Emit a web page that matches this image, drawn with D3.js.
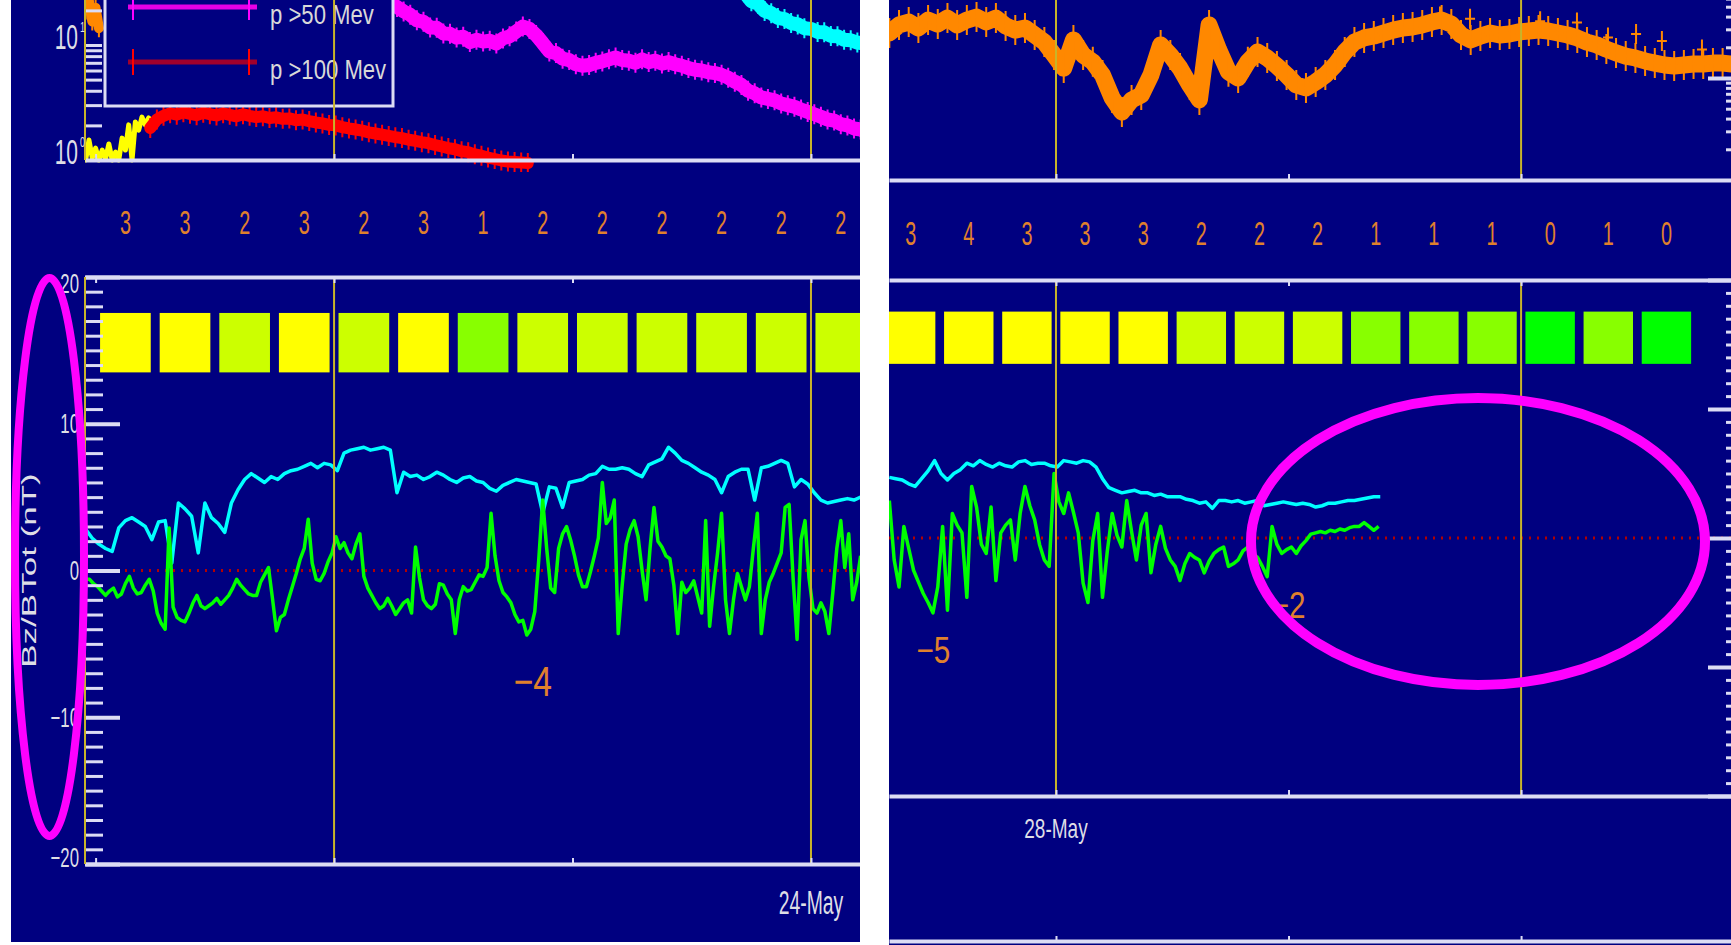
<!DOCTYPE html>
<html>
<head>
<meta charset="utf-8">
<title>Proton flux, Kp and IMF Bz/Btot</title>
<script src="https://cdn.jsdelivr.net/npm/d3@7"></script>
<style>
  html, body { margin: 0; padding: 0; background: #ffffff; }
  svg { display: block; }
  text { font-family: "Liberation Sans", Arial, sans-serif; }
</style>
</head>
<body>
<svg id="chart" width="1731" height="945"></svg>
<script>
// ---------------- data ----------------
// Kp index, one value per 3-hour bin
const kpLeftStart = "2024-05-22T12:00Z";
const kpLeft = [3, 3, 2, 3, 2, 3, 1, 2, 2, 2, 2, 2, 2];
const kpRightStart = "2024-05-27T15:00Z";
const kpRight = [3, 4, 3, 3, 3, 2, 2, 2, 1, 1, 1, 0, 1, 0];

// Dst minima written under the Bz trace
const dstLeftTimes = ["2024-05-23T10:00Z"];
const dstLeftValues = [-4];
const dstRightTimes = ["2024-05-27T17:40Z", "2024-05-28T12:00Z"];
const dstRightValues = [-5, -2];

// date labels on the time axis
const dayLabelsLeft = ["2024-05-24"];
const dayLabelsRight = ["2024-05-28"];

// IMF Bz (nT), 12-minute cadence
const bzLeftStart = "2024-05-22T11:30Z";
const bzLeft = [
  -0.6, -0.6, -0.9, -1.1, -1.4, -1.7, -1.4, -1.2, -1.8, -1.6,
  -0.9, -0.4, -1.2, -1.6, -1.5, -1.0, -0.6, -1.4, -2.9, -3.6,
  -4.0, 2.9, -2.5, -3.2, -3.4, -3.5, -2.9, -2.2, -1.7, -2.4,
  -2.6, -2.4, -2.2, -1.9, -2.3, -2.0, -1.7, -1.2, -0.6, -1.0,
  -1.3, -1.6, -1.7, -1.7, -0.8, -0.3, 0.2, -1.9, -4.1, -3.2,
  -3.0, -2.0, -1.1, -0.2, 0.8, 1.5, 3.5, 0.5, -0.6, -0.7,
  -0.2, 0.6, 1.2, 2.3, 1.5, 1.9, 1.2, 0.8, 1.8, 2.5,
  -0.4, -1.2, -1.7, -2.2, -2.6, -2.4, -1.9, -2.4, -3.0, -2.6,
  -2.2, -2.0, -2.9, 1.6, -0.5, -2.0, -2.4, -2.6, -2.3, -0.9,
  -1.0, -1.6, -2.0, -4.3, -2.0, -1.1, -1.4, -1.3, -0.8, -0.3,
  -0.4, 0.2, 3.9, 1.0, -0.7, -1.5, -1.8, -2.2, -3.0, -3.5,
  -3.4, -4.4, -4.0, -2.8, 0.7, 4.8, 1.5, -1.2, -1.5, 1.5,
  2.5, 3.0, 2.1, 1.0, -0.3, -1.1, -1.1, -0.1, 1.0, 2.2,
  6.0, 3.2, 3.6, 4.8, -4.3, -1.0, 1.8, 2.8, 3.4, 2.3,
  0.0, -2.0, 1.5, 4.3, 2.0, 1.6, 1.0, 0.8, -1.0, -4.3,
  -0.8, -1.5, -1.2, -0.7, -1.8, -2.9, 3.4, -3.8, -1.1, 1.2,
  3.9, -2.0, -4.3, -2.0, -0.2, -1.1, -2.0, -1.1, 1.5, 3.9,
  -4.3, -2.0, -0.8, -0.2, 0.5, 1.2, 4.3, 4.5, -0.5, -4.7,
  2.1, 3.4, -0.5, -2.6, -2.9, -2.2, -2.8, -4.3, -1.5, 1.5,
  3.4, 0.2, 2.5, -2.0, -0.8, 1.0
];
// IMF total field (nT), 20-minute cadence
const btLeftStart = "2024-05-22T11:30Z";
const btLeft = [
  2.8, 2.2, 1.8, 1.5, 1.3, 2.9, 3.4, 3.6, 3.3, 3.0,
  2.1, 3.3, 3.4, 0.5, 4.6, 4.2, 3.7, 1.2, 4.6, 3.6,
  3.2, 2.6, 4.6, 5.5, 6.2, 6.6, 6.3, 6.0, 6.4, 6.2,
  6.6, 6.8, 6.9, 7.1, 7.3, 7.0, 7.3, 7.2, 6.8, 8.0,
  8.2, 8.3, 8.4, 8.2, 8.3, 8.4, 8.2, 5.3, 6.7, 6.4,
  6.5, 6.2, 6.4, 6.7, 6.5, 6.2, 6.0, 6.3, 6.4, 6.1,
  6.0, 5.6, 5.4, 5.8, 6.0, 6.2, 6.1, 6.0, 5.9, 3.9,
  5.7, 5.6, 4.3, 6.0, 6.1, 6.2, 6.5, 6.6, 7.1, 6.9,
  6.9, 7.0, 6.9, 6.6, 6.4, 7.2, 7.4, 7.6, 8.4, 8.0,
  7.5, 7.3, 7.0, 6.7, 6.5, 6.2, 5.3, 6.4, 6.7, 6.9,
  6.9, 4.8, 7.0, 7.1, 7.3, 7.5, 7.3, 5.7, 6.2, 5.9,
  5.3, 4.8, 4.6, 4.7, 4.8, 4.9, 4.8, 5.0
];
// IMF Bz (nT), 15-minute cadence
const bzRightStart = "2024-05-27T15:24Z";
const bzRight = [
  2.9, -1.7, -3.8, 0.9, -0.8, -2.5, -3.4, -4.3, -5.0, -5.8,
  -3.8, 0.9, -5.6, 1.9, 1.0, 0.4, -4.6, 4.0, 2.4, -0.5,
  -1.2, 2.4, -3.3, 0.4, 1.0, 1.4, -1.7, 1.9, 4.0, 2.5,
  1.4, -0.5, -1.7, -2.2, 5.0, 2.8, 1.9, 3.5, 2.0, 0.4,
  -3.5, -5.0, -0.2, 1.9, -4.6, -1.0, 1.9, 0.2, -0.7, 2.9,
  0.5, -1.7, 1.0, 1.9, -2.7, -0.5, 0.9, -0.8, -1.7, -2.2,
  -3.3, -2.0, -1.2, -1.5, -1.7, -2.7, -1.8, -1.2, -0.9, -0.7,
  -2.2, -2.0, -1.7, -1.0, -0.7, -1.2, -1.5, -2.2, -3.0, 0.9,
  -0.5, -1.2, -0.9, -0.7, -1.2, -0.6, -0.2, 0.3, 0.4, 0.5,
  0.4, 0.6, 0.5, 0.7, 0.6, 0.8, 0.9, 0.9, 1.2, 0.9,
  0.6, 0.9
];
// IMF total field (nT), 20-minute cadence
const btRightStart = "2024-05-27T15:24Z";
const btRight = [
  4.7, 4.6, 4.5, 4.2, 4.0, 4.6, 5.2, 6.0, 5.0, 4.5,
  5.0, 5.3, 5.8, 5.6, 6.0, 5.7, 5.5, 5.8, 5.6, 5.5,
  5.9, 6.0, 5.7, 5.8, 5.8, 5.6, 5.5, 6.0, 5.9, 5.8,
  6.0, 5.9, 5.5, 4.6, 3.9, 3.7, 3.5, 3.6, 3.7, 3.5,
  3.5, 3.3, 3.4, 3.2, 3.2, 3.2, 3.0, 2.9, 2.7, 2.8,
  2.3, 2.9, 2.9, 2.8, 2.9, 2.7, 2.8, 2.9, 2.5, 2.6,
  2.7, 2.8, 2.7, 2.6, 2.7, 2.6, 2.4, 2.5, 2.7, 2.7,
  2.8, 2.9, 2.9, 3.0, 3.1, 3.2, 3.2
];

// particle fluxes (pfu)
const fluxP50Start = "2024-05-22T14:50Z";      // 20-minute cadence
const fluxP50 = [
  28, 35, 38, 40, 42, 41, 43, 44, 42, 43, 41, 40, 42, 39, 38, 40, 37, 36, 38, 35,
  34, 36, 33, 32, 34, 31, 30, 29, 31, 28, 27, 28, 26, 25, 24, 25, 23,
  21.4, 19.6, 18.3, 16.4, 15.9, 14.2, 14.1, 12.6, 12.5, 11.6, 11.8, 10.6, 11.1, 10.7,
  10.9, 10.3, 11.4, 11.9, 13.1, 14.5, 13.8, 12.2, 10.4, 8.8, 8.5, 7.6, 7.4, 6.8,
  6.6, 6.7, 7.0, 7.2, 7.5, 7.8, 7.4, 7.3, 7.0, 7.5, 7.1, 7.3, 6.9, 7.1, 6.8,
  6.6, 6.3, 6.1, 6.0, 5.8, 5.7, 5.5, 5.2, 4.8, 4.5, 4.0, 3.8, 3.5, 3.4, 3.3,
  3.1, 3.0, 2.9, 2.75, 2.62, 2.5, 2.38, 2.25, 2.2, 2.05, 2.0, 1.88, 1.84, 1.72
];
const fluxP100Start = "2024-05-22T14:45Z";     // 20-minute cadence
const fluxP100 = [
  1.90, 2.25, 2.42, 2.55, 2.48, 2.60, 2.52, 2.45, 2.58, 2.50,
  2.44, 2.55, 2.47, 2.40, 2.50, 2.42, 2.36, 2.40, 2.32, 2.35,
  2.28, 2.30, 2.22, 2.25, 2.18, 2.12, 2.08, 2.02, 2.00, 1.93,
  1.88, 1.84, 1.80, 1.74, 1.70, 1.66, 1.62, 1.58, 1.55, 1.50,
  1.47, 1.43, 1.40, 1.35, 1.31, 1.27, 1.24, 1.19, 1.17, 1.12,
  1.09, 1.05, 1.02, 0.99, 0.97, 0.96, 0.95, 0.94
];
const fluxP10Start = "2024-05-23T20:00Z";      // 20-minute cadence
const fluxP10 = [
  36.7, 30.5, 28.4, 24.0, 22.8, 19.8, 18.9, 17.2, 16.8, 15.5,
  15.1, 14.0, 13.8, 13.0, 12.9, 12.0, 11.9, 11.1, 11.0, 10.5, 10.3
];
const fluxP1Start = "2024-05-22T11:30Z";       // 10-minute cadence
const fluxP1 = [
  1.0, 1.49, 1.04, 1.27, 1.0, 1.22, 1.02, 1.38, 1.0, 1.17,
  1.0, 1.55, 1.22, 2.02, 1.0, 2.14, 1.82, 2.36, 2.02, 2.32
];
const fluxE2LeftStart = "2024-05-22T11:30Z";   // 10-minute cadence
const fluxE2Left = [20, 24, 16, 21, 14];
const fluxE2RightStart = "2024-05-27T15:24Z";  // 30-minute cadence
const fluxE2Right = [
  27.6, 33.1, 35.4, 30.9, 37.0, 33.8, 38.7, 33.1, 37.0, 39.6,
  35.4, 38.7, 32.4, 29.5, 30.9, 26.4, 22.5, 16.8, 12.5, 23.6,
  16.8, 14.4, 10.7, 6.37, 4.64, 6.09, 6.81, 10.7, 21.1, 16.8,
  12.5, 8.54, 6.09, 33.1, 18.8, 11.5, 10.0, 14.4, 18.0, 15.7,
  13.1, 10.7, 8.54, 7.98, 9.14, 10.7, 13.4, 18.0, 22.5, 24.7,
  25.8, 27.6, 29.5, 30.9, 31.6, 33.1, 35.4, 37.0, 33.8, 26.4,
  23.6, 25.8, 27.6, 26.4, 27.0, 28.3, 28.9, 29.5, 28.9, 27.6,
  26.4, 24.7, 22.5, 21.1, 19.2, 17.6, 16.4, 15.7, 14.7, 14.0,
  13.4, 13.1, 13.4, 13.7, 13.7, 14.0, 14.0, 13.7
];
const fluxE2SpikeTimes = ["2024-05-28T19:49Z", "2024-05-28T21:22Z", "2024-05-29T00:59Z",
  "2024-05-29T02:53Z", "2024-05-29T04:29Z", "2024-05-29T05:56Z", "2024-05-29T07:16Z", "2024-05-29T09:20Z"];
const fluxE2SpikeValues = [40, 38, 36, 35, 25, 27, 23, 19];

const legendLabels = ["p >50 Mev", "p >100 Mev"];

// ---------------- helpers ----------------
const parse = d3.utcParse("%Y-%m-%dT%H:%MZ");
const parseDay = d3.utcParse("%Y-%m-%d");
const fmtDay = d3.utcFormat("%d-%b");
const MIN = 60000;

function series(start, stepMin, values) {
  const t0 = +parse(start);
  return values.map((v, i) => ({ t: new Date(t0 + i * stepMin * MIN), v }));
}
function pairs(times, values) {
  return times.map((s, i) => ({ t: parse(s), v: values[i] }));
}

const NAVY = "#000080";
const AXIS = "#dcdcf4";
const DAYLINE = "#c8b42a";
const LABEL = "#dedee6";
const KPTEXT = "#e0802c";
const kpColor = d3.scaleThreshold().domain([1, 2, 3]).range(["#00ff00", "#88ff00", "#ccff00", "#ffff00"]);

const svg = d3.select("#chart");
const defs = svg.append("defs");
function clip(id, x, y, w, h) {
  defs.append("clipPath").attr("id", id)
    .append("rect").attr("x", x).attr("y", y).attr("width", w).attr("height", h);
  return `url(#${id})`;
}
function label(g, x, y, text, o) {
  return g.append("text")
    .attr("transform", `translate(${x},${y})${o.rotate ? ` rotate(${o.rotate})` : ""} scale(${o.sx || 1},${o.sy || 1})`)
    .attr("text-anchor", o.anchor || "middle")
    .attr("dominant-baseline", o.baseline || "central")
    .attr("font-size", o.size)
    .attr("fill", o.color)
    .text(text);
}
function styleTicks(sel, color, width) {
  sel.select(".domain").remove();
  sel.selectAll(".tick line").attr("stroke", color).attr("stroke-width", width);
  sel.selectAll(".tick text").remove();
}

// ---------------- panel layout ----------------
const LEFT = {
  id: "left",
  frame: [11, 0, 849, 942],
  x: d3.scaleUtc().domain([parse("2024-05-22T11:28Z"), parse("2024-05-24T02:28Z")]).range([85, 860]),
  flux: d3.scaleLog().domain([1, 10]).range([160, 45]),
  mag: d3.scaleLinear().domain([-20, 20]).range([864, 277]),
  fluxBase: 160,
  axisSide: "left",
  axisX: 85,
  kpStart: kpLeftStart, kp: kpLeft, kpY: 222,
  dst: pairs(dstLeftTimes, dstLeftValues), dstLevels: [-7.6], dstSize: 42,
  days: dayLabelsLeft, dayLabelDy: 38, dayLabelSize: 34, dayLabelSx: 0.57,
  bz: series(bzLeftStart, 12, bzLeft),
  bt: series(btLeftStart, 20, btLeft),
  fluxSeries: [
    { data: series(fluxP1Start, 10, fluxP1), color: "#ffff00", width: 5, spike: 0 },
    { data: series(fluxE2LeftStart, 10, fluxE2Left), color: "#ff8800", width: 10, spike: 9 },
    { data: series(fluxP100Start, 20, fluxP100), color: "#ff0000", width: 12, spike: 10 },
    { data: series(fluxP50Start, 20, fluxP50), color: "#ff00ff", width: 14, spike: 10 },
    { data: series(fluxP10Start, 20, fluxP10), color: "#00ffff", width: 14, spike: 10 }
  ],
  ellipse: { cx: 49.5, cy: 557, rx: 34.5, ry: 279, sw: 8 }
};

const RIGHT = {
  id: "right",
  frame: [889, 0, 842, 945],
  x: d3.scaleUtc().domain([parse("2024-05-27T15:23Z"), parse("2024-05-29T11:24Z")]).range([889, 1742]),
  flux: d3.scaleLog().domain([1, 10]).range([180, 78]),
  mag: d3.scaleLinear().domain([-20, 20]).range([796, 280]),
  fluxBase: 180,
  axisSide: "right",
  axisX: 1742,
  kpStart: kpRightStart, kp: kpRight, kpY: 233,
  dst: pairs(dstRightTimes, dstRightValues), dstLevels: [-8.7, -5.2], dstSize: 37,
  days: dayLabelsRight, dayLabelDy: 32, dayLabelSize: 28, dayLabelSx: 0.68,
  bz: series(bzRightStart, 15, bzRight),
  bt: series(btRightStart, 20, btRight),
  fluxSeries: [
    { data: series(fluxE2RightStart, 30, fluxE2Right), color: "#ff8800", width: 17, spike: 15, cross: 6 },
    { data: pairs(fluxE2SpikeTimes, fluxE2SpikeValues), color: "#ff8800", width: 0, spike: 10, cross: 5 }
  ],
  lowerFrameLine: 941,
  ellipse: { cx: 1478, cy: 541.5, rx: 227, ry: 143.5, sw: 10 }
};

// ---------------- drawing ----------------
function drawPanel(P) {
  const [xa, xb] = P.x.range();
  const magTop = P.mag.range()[1], magBottom = P.mag.range()[0];
  const g = svg.append("g").attr("clip-path", clip(P.id + "-frame", ...P.frame));
  g.append("rect").attr("x", P.frame[0]).attr("y", P.frame[1])
    .attr("width", P.frame[2]).attr("height", P.frame[3]).attr("fill", NAVY);

  const dayTicks = P.x.ticks(d3.utcDay.every(1)).filter(d => +d === +d3.utcDay.floor(d));
  const halfDays = P.x.ticks(d3.utcHour.every(12));

  // ---- particle flux plot ----
  const gf = g.append("g").attr("clip-path", clip(P.id + "-flux", xa, -60, xb - xa, P.fluxBase + 72));
  const fluxLine = d3.line().x(d => P.x(d.t)).y(d => P.flux(d.v));
  P.fluxSeries.forEach(s => {
    if (s.width > 0) {
      gf.append("path").attr("d", fluxLine(s.data)).attr("fill", "none")
        .attr("stroke", s.color).attr("stroke-width", s.width)
        .attr("stroke-linejoin", "round").attr("stroke-linecap", "round");
    }
    if (s.spike > 0) {
      const w = s.cross || 3;
      gf.append("path").attr("fill", "none").attr("stroke", s.color).attr("stroke-width", 2)
        .attr("d", s.data.map(d => {
          const cx = P.x(d.t), cy = P.flux(d.v);
          return `M${cx},${cy - s.spike}V${cy + s.spike}M${cx - w},${cy}H${cx + w}`;
        }).join(""));
    }
  });

  if (P.id === "left") drawLegend(gf);

  // day lines through the flux plot
  gf.selectAll("line.day").data(dayTicks).join("line").attr("class", "day")
    .attr("x1", d => P.x(d)).attr("x2", d => P.x(d))
    .attr("y1", -60).attr("y2", P.fluxBase)
    .attr("stroke", DAYLINE).attr("stroke-width", 2);

  // flux baseline (time axis)
  const gfb = g.append("g").attr("transform", `translate(0,${P.fluxBase})`)
    .call(d3.axisTop(P.x).tickValues(halfDays).tickSizeInner(6).tickSizeOuter(0).tickFormat(() => ""));
  gfb.select(".domain").attr("stroke", AXIS).attr("stroke-width", 4);
  gfb.selectAll(".tick line").attr("stroke", AXIS).attr("stroke-width", 2);

  // flux value axis (log ticks)
  const fluxTicks = [1, 2, 3, 4, 5, 6, 7, 8, 9, 10, 20, 30, 40, 50, 60];
  if (P.axisSide === "left") {
    const ga = g.append("g").attr("transform", `translate(${P.axisX},0)`)
      .call(d3.axisLeft(P.flux).tickValues(fluxTicks.filter(v => v > 1)).tickSizeInner(-17).tickSizeOuter(0).tickFormat(() => ""));
    styleTicks(ga, AXIS, 3);
    g.append("line").attr("x1", P.axisX).attr("x2", P.axisX).attr("y1", 0).attr("y2", P.fluxBase)
      .attr("stroke", DAYLINE).attr("stroke-width", 2);
    [10, 1].forEach(v => {
      label(g, 78, P.flux(v) - 8, "10", { size: 35, sx: 0.6, anchor: "end", color: LABEL });
      label(g, 80, P.flux(v) - 18, v === 10 ? "1" : "0", { size: 15, sx: 0.6, anchor: "start", color: LABEL });
    });
  } else {
    const ga = g.append("g").attr("transform", `translate(${P.axisX},0)`)
      .call(d3.axisLeft(P.flux).tickValues(fluxTicks.filter(v => v !== 10 && v > 1)).tickSizeInner(16).tickSizeOuter(0).tickFormat(() => ""));
    styleTicks(ga, AXIS, 3);
    const gb = g.append("g").attr("transform", `translate(${P.axisX},0)`)
      .call(d3.axisLeft(P.flux).tickValues([10]).tickSizeInner(34).tickSizeOuter(0).tickFormat(() => ""));
    styleTicks(gb, AXIS, 4);
  }

  // ---- Kp digits ----
  const kpT0 = +parse(P.kpStart);
  const kpData = P.kp.map((k, i) => ({ k, mid: new Date(kpT0 + (i * 180 + 90) * MIN) }));
  kpData.forEach(d => label(g, P.x(d.mid), P.kpY, String(d.k), { size: 33, sx: 0.6, color: KPTEXT }));

  // ---- magnetic field plot ----
  const gm = g.append("g").attr("clip-path", clip(P.id + "-mag", xa, magTop, xb - xa, magBottom - magTop));
  // Kp colour boxes
  gm.selectAll("rect.kp").data(kpData).join("rect").attr("class", "kp")
    .attr("x", d => P.x(new Date(+d.mid - 76.5 * MIN)))
    .attr("width", d => P.x(new Date(+d.mid + 76.5 * MIN)) - P.x(new Date(+d.mid - 76.5 * MIN)))
    .attr("y", P.mag(17.55)).attr("height", P.mag(13.5) - P.mag(17.55))
    .attr("fill", d => kpColor(d.k));
  // zero line
  gm.append("line").attr("x1", xa).attr("x2", xb).attr("y1", P.mag(0)).attr("y2", P.mag(0))
    .attr("stroke", "#b40000").attr("stroke-width", 3).attr("stroke-dasharray", "2,6");
  const magLine = d3.line().x(d => P.x(d.t)).y(d => P.mag(d.v));
  gm.append("path").attr("d", magLine(P.bt)).attr("fill", "none")
    .attr("stroke", "#00ffff").attr("stroke-width", 3.5).attr("stroke-linejoin", "round");
  gm.append("path").attr("d", magLine(P.bz)).attr("fill", "none")
    .attr("stroke", "#00ff00").attr("stroke-width", 3.5).attr("stroke-linejoin", "round");
  gm.selectAll("line.day").data(dayTicks).join("line").attr("class", "day")
    .attr("x1", d => P.x(d)).attr("x2", d => P.x(d))
    .attr("y1", magTop).attr("y2", magBottom)
    .attr("stroke", DAYLINE).attr("stroke-width", 2);

  // time axes above and below the field plot
  const gt = g.append("g").attr("transform", `translate(0,${magTop})`)
    .call(d3.axisBottom(P.x).tickValues(halfDays).tickSizeInner(6).tickSizeOuter(0).tickFormat(() => ""));
  gt.select(".domain").attr("stroke", AXIS).attr("stroke-width", 4);
  gt.selectAll(".tick line").attr("stroke", AXIS).attr("stroke-width", 2);
  const gbx = g.append("g").attr("transform", `translate(0,${magBottom})`)
    .call(d3.axisTop(P.x).tickValues(halfDays).tickSizeInner(6).tickSizeOuter(0).tickFormat(() => ""));
  gbx.select(".domain").attr("stroke", AXIS).attr("stroke-width", 4);
  gbx.selectAll(".tick line").attr("stroke", AXIS).attr("stroke-width", 2);

  if (P.lowerFrameLine) {
    const gl = g.append("g").attr("transform", `translate(0,${P.lowerFrameLine})`)
      .call(d3.axisTop(P.x).tickValues(halfDays).tickSizeInner(5).tickSizeOuter(0).tickFormat(() => ""));
    gl.select(".domain").attr("stroke", AXIS).attr("stroke-width", 4);
    gl.selectAll(".tick line").attr("stroke", AXIS).attr("stroke-width", 2);
  }

  // field value axis
  const minorVals = d3.range(-20, 21, 1).filter(v => v % 10 !== 0);
  const majorVals = [-20, -10, 0, 10, 20];
  const inward = P.axisSide === "left" ? -1 : 1;
  const gmin = g.append("g").attr("transform", `translate(${P.axisX},0)`)
    .call(d3.axisLeft(P.mag).tickValues(minorVals).tickSizeInner(inward * (P.axisSide === "left" ? 18 : 16)).tickSizeOuter(0).tickFormat(() => ""));
  styleTicks(gmin, AXIS, 3);
  const gmaj = g.append("g").attr("transform", `translate(${P.axisX},0)`)
    .call(d3.axisLeft(P.mag).tickValues(majorVals).tickSizeInner(inward * (P.axisSide === "left" ? 35 : 34)).tickSizeOuter(0).tickFormat(() => ""));
  styleTicks(gmaj, AXIS, 4);

  if (P.axisSide === "left") {
    g.append("line").attr("x1", P.axisX).attr("x2", P.axisX).attr("y1", magTop).attr("y2", magBottom)
      .attr("stroke", DAYLINE).attr("stroke-width", 2);
    majorVals.forEach(v => {
      const y = Math.min(Math.max(P.mag(v), magTop + 6), magBottom - 7);
      label(g, 79, y, d3.format("d")(v), { size: 28, sx: 0.6, anchor: "end", color: LABEL });
    });
    label(g, 29, P.mag(0), "Bz/BTot (nT)", { size: 20, rotate: -90, sx: 1.75, color: LABEL });
  }

  // Dst values
  P.dst.forEach((d, i) => label(g, P.x(d.t), P.mag(P.dstLevels[i]), d3.format("d")(d.v).replace("-", "\u2212"),
    { size: P.dstSize, sx: 0.8, color: KPTEXT }));

  // date labels
  P.days.forEach(s => {
    const t = parseDay(s);
    label(g, P.x(t), magBottom + P.dayLabelDy, fmtDay(t), { size: P.dayLabelSize, sx: P.dayLabelSx, color: LABEL });
  });

  // highlight ring
  const e = P.ellipse;
  svg.append("ellipse").attr("cx", e.cx).attr("cy", e.cy).attr("rx", e.rx).attr("ry", e.ry)
    .attr("fill", "none").attr("stroke", "#ff00ff").attr("stroke-width", e.sw);
}

function drawLegend(gf) {
  const box = gf.append("g");
  box.append("rect").attr("x", 105).attr("y", -30).attr("width", 288).attr("height", 136)
    .attr("fill", NAVY).attr("stroke", AXIS).attr("stroke-width", 3);
  const entries = [
    { text: legendLabels[0], line: "#e600e6", cap: "#ff00ff", y: 7 },
    { text: legendLabels[1], line: "#a0002c", cap: "#ff0000", y: 62 }
  ];
  entries.forEach(en => {
    box.append("line").attr("x1", 128).attr("x2", 257).attr("y1", en.y).attr("y2", en.y)
      .attr("stroke", en.line).attr("stroke-width", 5);
    [133, 249].forEach(cx => box.append("line").attr("x1", cx).attr("x2", cx)
      .attr("y1", en.y - 13).attr("y2", en.y + 13).attr("stroke", en.cap).attr("stroke-width", 2));
    label(box, 270, en.y + 17, en.text, { size: 28, sx: 0.79, anchor: "start", baseline: "alphabetic", color: "#d8d8d8" });
  });
}

drawPanel(LEFT);
drawPanel(RIGHT);
</script>
</body>
</html>
